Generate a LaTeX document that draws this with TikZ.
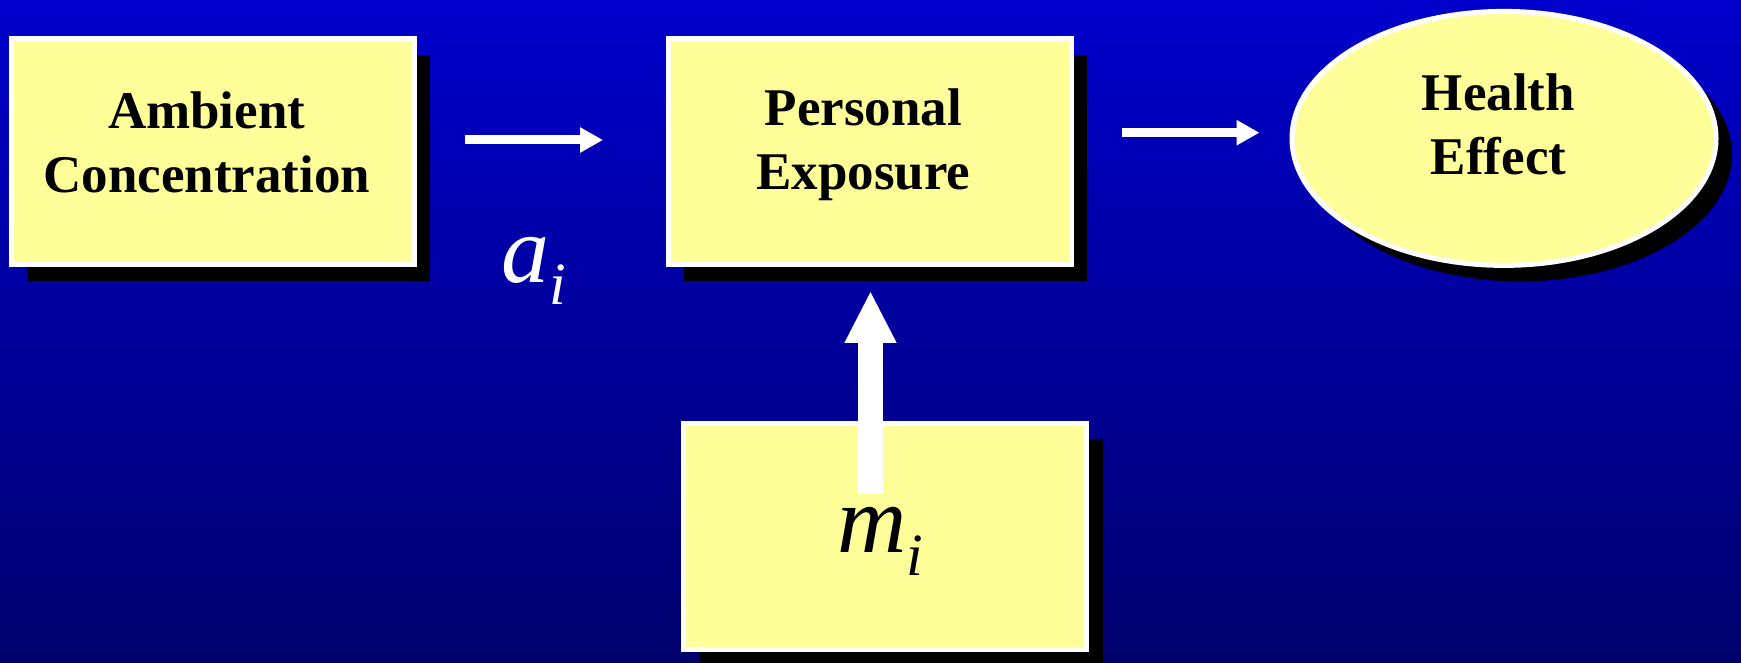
\documentclass[tikz,border=0pt]{standalone}
\usepackage{fontspec}
\setmainfont{Liberation Serif}
\usetikzlibrary{arrows.meta,shapes.geometric,shadows}
\definecolor{bgtop}{RGB}{0,0,204}
\definecolor{bgbot}{RGB}{0,0,108}
\definecolor{boxfill}{RGB}{255,255,153}
\tikzset{
  blockbox/.style={rectangle, draw=white, line width=5pt, fill=boxfill, inner sep=0pt,
    minimum width=403pt, minimum height=226pt, align=center,
    font=\fontsize{53}{64}\selectfont\bfseries,
    drop shadow={shadow xshift=16pt, shadow yshift=-16pt, fill=black, opacity=1}},
  blockell/.style={ellipse, draw=white, line width=5pt, fill=boxfill, inner sep=0pt,
    minimum width=424pt, minimum height=254pt, align=center,
    font=\fontsize{53}{64}\selectfont\bfseries,
    drop shadow={shadow xshift=16pt, shadow yshift=-16pt, fill=black, opacity=1}},
  thinarr/.style={draw=white, line width=9pt, -{Triangle[length=23pt,width=24pt]}, fill=white},
  bigarr/.style={draw=white, line width=24.6pt, -{Triangle[length=52pt,width=48pt]}, fill=white},
  mathlbl/.style={inner sep=0pt, text=white, font=\fontsize{96}{96}\selectfont\itshape}
}
\newcommand{\subi}[1]{\raisebox{-#1}{\fontsize{60}{60}\selectfont\itshape i}}
\begin{document}
\begin{tikzpicture}[x=1pt,y=-1pt]
\useasboundingbox (0,0) rectangle (1741,663);
\shade[top color=bgtop, bottom color=bgbot] (0,0) rectangle (1741,663);

\node[blockbox] (amb) at (212.75,152)
  {Ambient\hspace*{12pt}\\Concentration\hspace*{12pt}\rule[-20pt]{0pt}{20pt}};
\node[blockbox] (pers) at (869.5,152)
  {Personal\hspace*{12pt}\\Exposure\hspace*{12pt}\rule[-26pt]{0pt}{26pt}};
\node[blockell] (ell) at (1504,138.4)
  {Health\hspace*{11pt}\\Effect\hspace*{11pt}\rule[-29pt]{0pt}{29pt}};
\node[blockbox, font=\fontsize{96}{96}\selectfont\itshape] (mbox) at (885,536)
  {\rule{0pt}{55pt}m\subi{23pt}\hspace*{10pt}};

\node[mathlbl, anchor=base] (ai) at (534,283) {a\subi{22pt}};

\draw[thinarr, shorten <=48pt, shorten >=62.5pt]
  ([yshift=12pt]amb.east) -- ([yshift=12pt]pers.west);
\draw[thinarr, shorten <=48.5pt, shorten >=30pt]
  ([yshift=19.3pt]pers.east) -- ([yshift=19.3pt]pers.east -| ell.west);
\coordinate (mstart) at ([xshift=-14.5pt,yshift=42pt]mbox.center);
\draw[bigarr, shorten >=23.3pt] (mstart) -- (mstart |- pers.south);
\end{tikzpicture}
\end{document}
